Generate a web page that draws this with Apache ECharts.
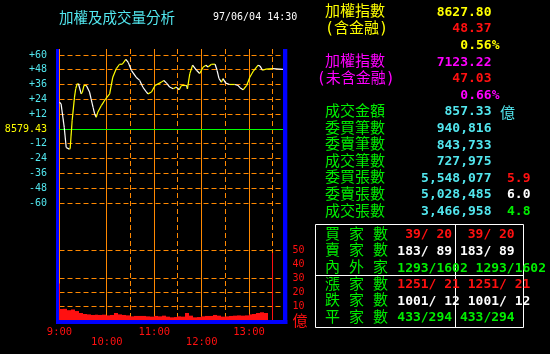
<!DOCTYPE html>
<html>
<head>
<meta charset="utf-8">
<script src="https://cdn.jsdelivr.net/npm/echarts@6/dist/echarts.min.js"></script>
<style>
  html, body { margin: 0; padding: 0; background: #000; }
  #chart { width: 550px; height: 354px; }
</style>
</head>
<body>
<div id="chart"></div>
<script>
// 盤中走勢 (分鐘, 相對昨收漲跌點數)
const BASE = '8579.43'
const priceTimes = [0, 2, 6, 8.5, 12.5, 13.5, 16, 19, 20.5, 22.5, 24, 27.5, 29, 31, 34, 38, 40, 42.5, 44.5, 46.5,
  48.5, 53, 58.5, 63.5, 67.5, 72, 76, 79.5, 84, 87, 91, 97, 101.5, 105.5, 110, 112, 116.5, 121, 129, 132,
  135.5, 139.5, 144, 148, 151.5, 154.5, 161, 162, 165, 168.5, 173.5, 177.5, 182, 185.5, 188, 192.5, 197, 199.5, 202, 205,
  207, 210.5, 215.5, 222, 226, 228.5, 232.5, 237, 241, 245.5, 251.5, 254, 257, 261.5, 270, 283]
const priceValues = [21.7, 20.4, 1.3, -15, -16.3, -16, 6.8, 25.8, 32.6, 36.7, 36.7, 28.5, 30, 35.3, 35.3, 30, 24.5, 17.6, 12.2, 9.5,
  13.6, 19, 24.5, 28.5, 42, 49, 52.5, 52.5, 56.5, 54, 47.6, 42, 39.4, 34, 30, 28.5, 30, 35.3, 38, 39.4,
  37.2, 34, 32.6, 34, 31.8, 35.3, 35.3, 32.6, 44.9, 51.7, 47.6, 45, 50.3, 51.7, 50.3, 52.5, 52.5, 47.6, 40.8, 38,
  40.8, 37.2, 36.1, 36.1, 35.3, 33.5, 31.8, 35.3, 42, 47, 51.7, 51, 47.6, 48.5, 49, 48.4]

// 成交量 (億), 每 5 分鐘
const volTimes = []
for (let t = 0; t <= 260; t += 5) volTimes.push(t)
const volValues = [7.9, 8, 7, 7.5, 6.4, 5, 4.3, 4, 3.6, 3.8, 3.6, 3.8, 3.3, 3.6, 5, 4, 3.6, 3.3, 2.6, 2.9,
  2.9, 2.9, 2.6, 2.4, 2.9, 2.6, 3.1, 2.4, 1.9, 2.1, 2.6, 2.4, 5, 3.1, 1.9, 2.1, 2.6, 2.9, 2.9, 3.6,
  3.1, 2.4, 2.6, 2.9, 3.1, 3.3, 3.1, 3.3, 4, 4.3, 5, 5.5, 5]
const openVol = 26
const closeVol = 48

const hourLines = [0, 60, 120, 180, 240]
const halfLines = [90, 150, 210, 270]
const indexGridLines = [60, 48, 36, 24, 12, -12, -24, -36, -48, -60]
const volGridLines = [10, 20, 30, 50]

// 右側資訊
const taiexName = ['加權指數', '(含金融)']
const taiexValues = ['8627.80', '48.37', '0.56%']
const exFinName = ['加權指數', '(未含金融)']
const exFinValues = ['7123.22', '47.03', '0.66%']
const tradeNames = ['成交金額', '委買筆數', '委賣筆數', '成交筆數', '委買張數', '委賣張數', '成交張數']
const tradeValues = ['857.33', '940,816', '843,733', '727,975', '5,548,077', '5,028,485', '3,466,958']
const amountUnit = '億'
const ratioValues = ['5.9', '6.0', '4.8']
const tableNames = ['買 家 數', '賣 家 數', '內 外 家', '漲 家 數', '跌 家 數', '平 家 數']
const tableLeft = [' 39/ 20', '183/ 89', '1293/1602', '1251/ 21', '1001/ 12', '433/294']
const tableRight = [' 39/ 20', '183/ 89', '1293/1602', '1251/ 21', '1001/ 12', '433/294']

const CYAN = '#52e6ee'
const YELLOW = '#ffff00'
const MAGENTA = '#ff00ff'
const RED = '#ff1010'
const GREEN = '#00ee00'
const WHITE = '#ffffff'
const ORANGE = '#ff8800'
const BLUE = '#0000ff'
const MONO = "'DejaVu Sans Mono', monospace"
const NUM = "bold 13px 'DejaVu Sans Mono', monospace"
const LBL = "15px 'DejaVu Sans Mono', 'Noto Sans CJK TC', sans-serif"
const CJK = "'Noto Sans CJK TC', sans-serif"
const DASH = [5, 3]

const priceData = priceTimes.map((t, i) => {
  const p = i > 0 ? i - 1 : 0
  return [t, priceValues[i], priceTimes[p], priceValues[p]]
})
const volData = volTimes.map((t, i) => [t, t + 5, volValues[i]])
volData.unshift([0, 1, openVol])
volData.push([270, 271, closeVol])
const vLineData = hourLines.map(t => [t, 0]).concat(halfLines.map(t => [t, 1]))

const rowY = k => 12.5 + 16.6 * k
const tblY = k => 235 + 16.6 * k
const snap = v => Math.floor(v) + 0.5

function txt(text, x, y, fill, font, align) {
  return {
    type: 'text', x: x, y: y, z: 10, silent: true,
    style: { text: text, fill: fill, font: font, textAlign: align || 'left', textVerticalAlign: 'middle', align: align || 'left', verticalAlign: 'middle' }
  }
}

function hLine(color, dashed) {
  return (params, api) => {
    const cs = params.coordSys
    const y = snap(api.coord([0, api.value(0)])[1])
    return {
      type: 'line', silent: true,
      shape: { x1: cs.x, y1: y, x2: cs.x + cs.width, y2: y },
      style: { stroke: color, lineWidth: 1, lineDash: dashed ? DASH : null }
    }
  }
}

const graphics = [
  txt('加權及成交量分析', 59, 17, CYAN, "14.5px " + CJK),
  txt('97/06/04 14:30', 213, 17, WHITE, "10px " + MONO),
  txt(taiexName[0], 325, rowY(0), YELLOW, LBL),
  txt(taiexName[1], 325, rowY(1), YELLOW, LBL),
  txt(taiexValues[0], 491.5, rowY(0), YELLOW, NUM, 'right'),
  txt(taiexValues[1], 491.5, rowY(1), RED, NUM, 'right'),
  txt(taiexValues[2], 499.5, rowY(2), YELLOW, NUM, 'right'),
  txt(exFinName[0], 325, rowY(3), MAGENTA, LBL),
  txt(exFinName[1], 316.7, rowY(4), MAGENTA, LBL),
  txt(exFinValues[0], 491.5, rowY(3), MAGENTA, NUM, 'right'),
  txt(exFinValues[1], 491.5, rowY(4), RED, NUM, 'right'),
  txt(exFinValues[2], 499.5, rowY(5), MAGENTA, NUM, 'right'),
  txt(amountUnit, 500, rowY(6), CYAN, "15px " + CJK)
]
tradeNames.forEach((n, i) => {
  graphics.push(txt(n, 325, rowY(6 + i), GREEN, LBL))
  graphics.push(txt(tradeValues[i], 491.5, rowY(6 + i), CYAN, NUM, 'right'))
})
const ratioColors = [RED, WHITE, GREEN]
ratioValues.forEach((v, i) => {
  graphics.push(txt(v, 530.5, rowY(10 + i), ratioColors[i], NUM, 'right'))
})
const tableColors = [RED, WHITE, GREEN, RED, WHITE, GREEN]
tableNames.forEach((n, i) => {
  graphics.push(txt(n, 325, tblY(i), GREEN, LBL))
  graphics.push(txt(tableLeft[i] + ' ' + tableRight[i], 397.3, tblY(i), tableColors[i], NUM))
})
// 表格框線
graphics.push({ type: 'rect', z: 9, silent: true, shape: { x: 315.5, y: 224.5, width: 208, height: 103 }, style: { fill: 'none', stroke: WHITE, lineWidth: 1 } })
graphics.push({ type: 'line', z: 9, silent: true, shape: { x1: 315.5, y1: 275.5, x2: 523.5, y2: 275.5 }, style: { stroke: WHITE, lineWidth: 1 } })
graphics.push({ type: 'line', z: 9, silent: true, shape: { x1: 455.5, y1: 224.5, x2: 455.5, y2: 327.5 }, style: { stroke: WHITE, lineWidth: 1 } })
// 藍色外框
graphics.push({ type: 'rect', z: 20, silent: true, shape: { x: 56, y: 49, width: 3, height: 275 }, style: { fill: BLUE } })
graphics.push({ type: 'rect', z: 20, silent: true, shape: { x: 283, y: 49, width: 4.3, height: 275 }, style: { fill: BLUE } })
graphics.push({ type: 'rect', z: 20, silent: true, shape: { x: 56, y: 320, width: 231.3, height: 4 }, style: { fill: BLUE } })

const chart = echarts.init(document.getElementById('chart'))
chart.setOption({
  backgroundColor: '#000',
  animation: false,
  grid: [
    { left: 59.5, width: 223.5, top: 49, height: 271 },
    { left: 59.5, width: 223.5, top: 55, height: 148 },
    { left: 59.5, width: 223.5, top: 250, height: 70 }
  ],
  xAxis: [
    {
      gridIndex: 0, type: 'value', min: 0, max: 283, interval: 60,
      axisLine: { show: false }, axisTick: { show: false }, splitLine: { show: false },
      axisLabel: {
        margin: 7, color: RED, fontFamily: MONO, fontSize: 10.5, showMaxLabel: false,
        formatter: v => {
          if (v % 60 !== 0) return ''
          const h = 9 + v / 60
          return (h % 2 === 1 ? '{a|' : '{b|') + h + ':00}'
        },
        rich: {
          a: { color: RED, fontFamily: MONO, fontSize: 10.5 },
          b: { color: RED, fontFamily: MONO, fontSize: 10.5, padding: [10, 0, 0, 0] }
        }
      }
    },
    { gridIndex: 1, type: 'value', min: 0, max: 283, show: false },
    { gridIndex: 2, type: 'value', min: 0, max: 283, show: false }
  ],
  yAxis: [
    { gridIndex: 0, type: 'value', min: 0, max: 1, show: false },
    {
      gridIndex: 1, type: 'value', min: -60, max: 60, interval: 12, position: 'left',
      axisLine: { show: false }, axisTick: { show: false }, splitLine: { show: false },
      axisLabel: {
        margin: 12.5, color: CYAN, fontFamily: MONO, fontSize: 10,
        formatter: v => v === 0 ? '{b|' + BASE + '}' : (v > 0 ? '+' + v : String(v)),
        rich: { b: { color: YELLOW, fontFamily: MONO, fontSize: 10 } }
      }
    },
    {
      gridIndex: 2, type: 'value', min: 0, max: 50, interval: 10, position: 'right',
      axisLine: { show: false }, axisTick: { show: false }, splitLine: { show: false },
      axisLabel: {
        margin: 9.5, color: RED, fontFamily: MONO, fontSize: 10,
        formatter: v => v === 0 ? '{u|億}' : String(v),
        rich: { u: { color: RED, fontFamily: CJK, fontSize: 15 } }
      }
    }
  ],
  series: [
    {
      // 時間格線: 整點實線, 半點虛線
      type: 'custom', xAxisIndex: 0, yAxisIndex: 0, z: 1, silent: true,
      encode: { x: 0 },
      data: vLineData,
      renderItem: (params, api) => {
        const cs = params.coordSys
        const x = snap(api.coord([api.value(0), 0])[0])
        return {
          type: 'line',
          shape: { x1: x, y1: cs.y, x2: x, y2: cs.y + cs.height },
          style: { stroke: ORANGE, lineWidth: 1, lineDash: api.value(1) ? DASH : null }
        }
      }
    },
    {
      // 指數格線
      type: 'custom', xAxisIndex: 1, yAxisIndex: 1, z: 1, silent: true,
      encode: { y: 0 },
      data: indexGridLines.map(v => [v]),
      renderItem: hLine(ORANGE, true)
    },
    {
      // 成交量格線
      type: 'custom', xAxisIndex: 2, yAxisIndex: 2, z: 1, silent: true,
      encode: { y: 0 },
      data: volGridLines.map(v => [v]),
      renderItem: hLine(ORANGE, true)
    },
    {
      type: 'custom', xAxisIndex: 2, yAxisIndex: 2, z: 3, silent: true,
      encode: { x: [0, 1], y: 2 },
      data: volData,
      renderItem: (params, api) => {
        const a = api.coord([api.value(0), api.value(2)])
        const b = api.coord([api.value(1), 0])
        const x0 = Math.floor(a[0])
        const x1 = Math.max(Math.floor(b[0]), x0 + 1)
        return { type: 'rect', shape: { x: x0, y: a[1], width: x1 - x0, height: b[1] - a[1] }, style: { fill: RED } }
      }
    },
    {
      // 昨收基準線
      type: 'custom', xAxisIndex: 1, yAxisIndex: 1, z: 4, silent: true,
      encode: { y: 0 },
      data: [[0]],
      renderItem: hLine('#00ff00', false)
    },
    {
      type: 'custom', xAxisIndex: 1, yAxisIndex: 1, z: 5, silent: true,
      encode: { x: 0, y: 1 },
      data: priceData,
      renderItem: (params, api) => {
        const p1 = api.coord([api.value(2), api.value(3)])
        const p2 = api.coord([api.value(0), api.value(1)])
        const up = api.value(1) >= api.value(3)
        return {
          type: 'line',
          shape: { x1: p1[0], y1: p1[1], x2: p2[0], y2: p2[1] },
          style: { stroke: up ? YELLOW : WHITE, lineWidth: 1.2 }
        }
      }
    }
  ],
  graphic: { elements: graphics }
})
</script>
</body>
</html>
